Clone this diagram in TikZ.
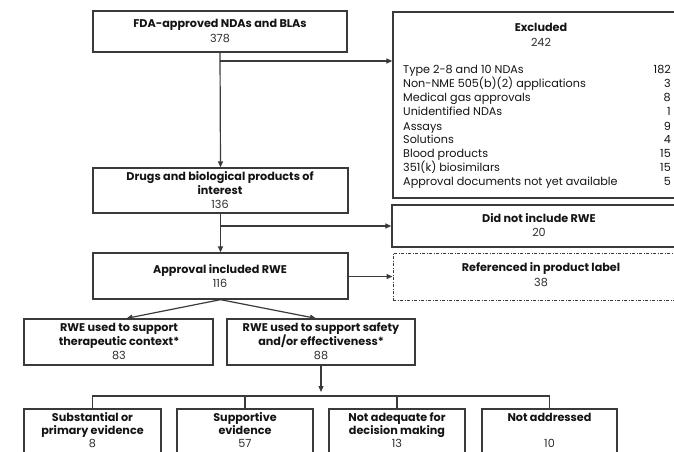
\documentclass[tikz,border=0pt]{standalone}
\usepackage{fontspec}
\setmainfont{Poppins}
\usetikzlibrary{arrows.meta,calc}
\definecolor{linec}{HTML}{3A3A3A}
\definecolor{txtc}{HTML}{141414}
\definecolor{numc}{HTML}{2E2E2E}
\begin{document}
\begin{tikzpicture}[x=1pt,y=-1pt,
  box/.style={draw=linec, line width=1.3pt, fill=white, inner sep=0pt},
  dbox/.style={draw=linec, line width=1pt, dash pattern=on 3pt off 1.5pt on 1pt off 1.5pt, fill=white, inner sep=0pt},
  hd/.style={font=\fontsize{11.2}{13}\selectfont\bfseries, text=txtc, inner sep=0pt, anchor=mid},
  num/.style={font=\fontsize{11.2}{13}\selectfont, text=numc, inner sep=0pt, anchor=mid},
  item/.style={font=\fontsize{11.2}{13}\selectfont, text=txtc, inner sep=0pt, anchor=mid west},
  inum/.style={font=\fontsize{11.2}{13}\selectfont, text=txtc, inner sep=0pt, anchor=mid east},
  conn/.style={draw=linec, line width=1.2pt},
  arr/.style={conn, -{Triangle[length=6pt,width=5pt]}}]
\useasboundingbox (0,0) rectangle (674,452);
\clip (0,0) rectangle (674,452);

% boxes
\node[box, minimum width=254pt, minimum height=41pt] (fda) at (220,31.5) {};
\node[box, minimum width=297pt, minimum height=186pt] (excl) at (541.5,105) {};
\node[box, minimum width=255pt, minimum height=45pt] (drugs) at (220.5,190.5) {};
\node[box, minimum width=298pt, minimum height=42pt] (did) at (541,226) {};
\node[dbox, minimum width=297pt, minimum height=47pt] (ref) at (541.5,276.5) {};
\node[box, minimum width=255pt, minimum height=46pt] (appr) at (220.5,276) {};
\node[box, minimum width=189pt, minimum height=46pt] (ther) at (118.5,342) {};
\node[box, minimum width=188pt, minimum height=46pt] (safe) at (321,342) {};
\node[box, minimum width=137pt, minimum height=60pt] (subs) at (92.5,439) {};
\node[box, minimum width=136pt, minimum height=60pt] (supp) at (245,439) {};
\node[box, minimum width=136pt, minimum height=60pt] (nadq) at (397,439) {};
\node[box, minimum width=135pt, minimum height=60pt] (nadd) at (549.5,439) {};

% texts
\node[hd] (t1) at (220,25) {FDA-approved NDAs and BLAs};
\node[num] (n1) at (220,40) {378};
\node[hd] (t2) at (541,29) {Excluded};
\node[num] (n2) at (541,44) {242};
\node[item] (i1) at (403,71) {Type 2-8 and 10 NDAs};
\node[item] (i2) at (403,85) {Non-NME 505(b)(2) applications};
\node[item] (i3) at (403,99) {Medical gas approvals};
\node[item] (i4) at (403,113) {Unidentified NDAs};
\node[item] (i5) at (403,127.5) {Assays};
\node[item] (i6) at (403,141) {Solutions};
\node[item] (i7) at (403,155) {Blood products};
\node[item] (i8) at (403,169) {351(k) biosimilars};
\node[item] (i9) at (403,183) {Approval documents not yet available};
\node[inum] (v1) at (671,71) {182};
\node[inum] (v2) at (671,85) {3};
\node[inum] (v3) at (671,99) {8};
\node[inum] (v4) at (671,113) {1};
\node[inum] (v5) at (671,127.5) {9};
\node[inum] (v6) at (671,141) {4};
\node[inum] (v7) at (671,155) {15};
\node[inum] (v8) at (671,169) {15};
\node[inum] (v9) at (671,183) {5};
\node[hd] (t3a) at (220,178) {Drugs and biological products of};
\node[hd] (t3b) at (220,192) {interest};
\node[num] (n3) at (220,206) {136};
\node[hd] (t4) at (539,220) {Did not include RWE};
\node[num] (n4) at (539,234) {20};
\node[hd] (t5) at (541,269) {Referenced in product label};
\node[num] (n5) at (541,284) {38};
\node[hd] (t6) at (220,271) {Approval included RWE};
\node[num] (n6) at (220,285) {116};
\node[hd] (t7a) at (119,329) {RWE used to support};
\node[hd] (t7b) at (119,343) {therapeutic context*};
\node[num] (n7) at (119,357) {83};
\node[hd] (t8a) at (321,329) {RWE used to support safety};
\node[hd] (t8b) at (321,343) {and/or effectiveness*};
\node[num] (n8) at (321,357) {88};
\node[hd] (t9a) at (92.5,418.5) {Substantial or};
\node[hd] (t9b) at (92.5,432) {primary evidence};
\node[num] (n9) at (92.5,445) {8};
\node[hd] (t10a) at (245,418.5) {Supportive};
\node[hd] (t10b) at (245,432) {evidence};
\node[num] (n10) at (245,445) {57};
\node[hd] (t11a) at (397,418.5) {Not adequate for};
\node[hd] (t11b) at (397,432) {decision making};
\node[num] (n11) at (397,445) {13};
\node[hd] (t12a) at (549.5,418.5) {Not addressed};
\node[num] (n12) at (549.5,445) {10};

% connectors
\draw[arr] (fda.south) -- (drugs.north);
\coordinate (b1) at (220,61);
\draw[arr] (b1) -- (b1 -| excl.west);
\draw[arr] (drugs.south) -- (appr.north);
\coordinate (b2) at (220,226);
\draw[arr] (b2) -- (b2 -| did.west);
\draw[arr] (appr.east |- ref.west) -- (ref.west);
\draw[arr] (appr.south) -- ($(ther.north)+(8,0)$);
\draw[arr] (appr.south) -- ($(safe.north)+(-5,0)$);
\coordinate (sj) at (321,392);
\draw[arr] (safe.south) -- (sj);
\coordinate (hl) at (92.5,396);
\coordinate (hr) at (549.5,396);
\draw[conn] (subs.north) -- (hl) -- (hr) -- (nadd.north);
\draw[conn] (supp.north) -- (supp.north |- hl);
\draw[conn] (nadq.north) -- (nadq.north |- hl);
\end{tikzpicture}
\end{document}
